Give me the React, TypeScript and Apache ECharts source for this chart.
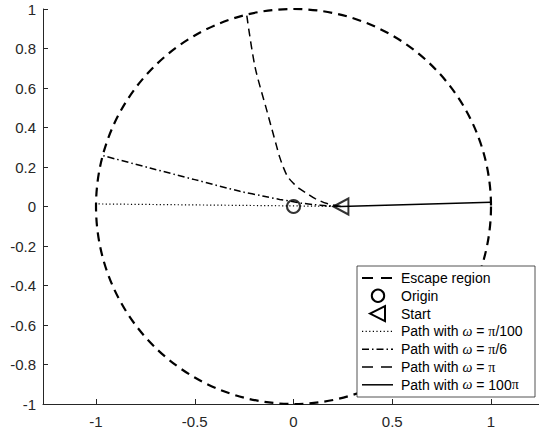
import React, { useEffect, useRef } from "react";
import * as echarts from "echarts";

// ---- data ----
const xTickValues = [-1, -0.5, 0, 0.5, 1];
const yTickValues = [-1, -0.8, -0.6, -0.4, -0.2, 0, 0.2, 0.4, 0.6, 0.8, 1];
const escapeCenter = [0, 0];
const escapeRadius = 1;
const originPoint = [0, 0];
const startPoint = [0.24, 0];
const pathPi100 = [
  [0.24, 0],
  [0, 0.003],
  [-0.5, 0.008],
  [-1.0, 0.013],
];
const pathPi6 = [
  [0.24, 0],
  [0.17, 0.004],
  [0.1, 0.01],
  [0.04, 0.017],
  [0, 0.024],
  [-0.07, 0.036],
  [-0.15, 0.052],
  [-0.271, 0.077],
  [-0.5, 0.136],
  [-0.727, 0.195],
  [-0.963, 0.257],
];
const pathPi = [
  [0.24, 0],
  [0.17, 0.015],
  [0.11, 0.04],
  [0.067, 0.067],
  [0.03, 0.09],
  [0, 0.117],
  [-0.03, 0.152],
  [-0.052, 0.2],
  [-0.07, 0.25],
  [-0.085, 0.303],
  [-0.136, 0.489],
  [-0.195, 0.708],
  [-0.237, 0.97],
];
const path100Pi = [
  [0.24, 0],
  [0.6, 0.01],
  [1.0, 0.021],
];
const legendLabels = [
  "Escape region",
  "Origin",
  "Start",
  "Path with {w|ω} = {p|π}/100",
  "Path with {w|ω} = {p|π}/6",
  "Path with {w|ω} = {p|π}",
  "Path with {w|ω} = 100{p|π}",
];

const FONT = "'Liberation Sans', Arial, Helvetica, sans-serif";
const AXIS_COLOR = "#262626";

export default function App() {
  const ref = useRef<HTMLDivElement>(null);
  useEffect(() => {
    if (!ref.current) return;
    const chart = echarts.init(ref.current, null, { renderer: "svg" });

    const legendX = 357;
    const legendY = 266;
    const rowY = (i: number) => 278 + i * 17.8;
    const lx1 = 362;
    const lx2 = 393;
    const rich = {
      w: { fontFamily: "'Liberation Serif', 'DejaVu Serif', serif", fontStyle: "italic", fontSize: 14, fill: "#000" },
      p: { fontFamily: "'Liberation Serif', 'DejaVu Serif', serif", fontSize: 14, fill: "#000" },
    };
    const legendStyles: any[] = [
      { lineDash: [11, 8], lineWidth: 2.2 },
      null,
      null,
      { lineDash: [1.2, 2.4], lineWidth: 1.2 },
      { lineDash: [7, 3, 1.5, 3], lineWidth: 1.5 },
      { lineDash: [11, 8], lineWidth: 1.5 },
      { lineWidth: 1.5 },
    ];
    const legendEls: any[] = [
      {
        type: "rect",
        shape: { x: legendX, y: legendY, width: 178, height: 131 },
        style: { fill: "#fff", stroke: AXIS_COLOR, lineWidth: 0.8 },
        z: 100,
      },
    ];
    legendLabels.forEach((label, i) => {
      const y = rowY(i);
      const st = legendStyles[i];
      if (st) {
        legendEls.push({
          type: "line",
          shape: { x1: lx1, y1: y, x2: lx2, y2: y },
          style: { stroke: "#000", ...st },
          z: 101,
        });
      } else if (i === 1) {
        legendEls.push({
          type: "circle",
          shape: { cx: 378, cy: y, r: 6.2 },
          style: { fill: "none", stroke: "#000", lineWidth: 2 },
          z: 101,
        });
      } else if (i === 2) {
        legendEls.push({
          type: "polygon",
          shape: { points: [[370, y], [385, y - 7.5], [385, y + 7.5]] },
          style: { fill: "none", stroke: "#000", lineWidth: 2 },
          z: 101,
        });
      }
      legendEls.push({
        type: "text",
        x: 401,
        y: y,
        style: {
          text: label,
          font: `14px ${FONT}`,
          fill: "#000",
          verticalAlign: "middle",
          align: "left",
          rich,
        },
        z: 101,
      });
    });

    const fmt = (v: number) => String(Math.round(v * 10) / 10);

    chart.setOption({
      animation: false,
      grid: { left: 43, right: 0, top: 9, bottom: 31, containLabel: false },
      xAxis: {
        type: "value",
        min: -1.2684,
        max: 1.243,
        axisLine: { onZero: false, lineStyle: { color: AXIS_COLOR, width: 1 } },
        axisTick: {
          inside: true,
          length: 5,
          customValues: xTickValues,
          lineStyle: { color: AXIS_COLOR },
        },
        axisLabel: {
          customValues: xTickValues,
          formatter: (v: number) => fmt(v),
          color: AXIS_COLOR,
          fontSize: 15,
          fontFamily: FONT,
          margin: 10,
        },
        splitLine: { show: false },
      },
      yAxis: {
        type: "value",
        min: -1,
        max: 1,
        interval: 0.2,
        axisLine: { show: true, onZero: false, lineStyle: { color: AXIS_COLOR, width: 1 } },
        axisTick: { show: true, inside: true, length: 5, lineStyle: { color: AXIS_COLOR } },
        axisLabel: {
          formatter: (v: number) => fmt(v),
          color: AXIS_COLOR,
          fontSize: 15,
          fontFamily: FONT,
          margin: 7,
          customValues: yTickValues,
        },
        splitLine: { show: false },
      },
      series: [
        {
          type: "custom",
          coordinateSystem: "cartesian2d",
          clip: false,
          data: [[escapeCenter[0], escapeCenter[1], escapeRadius]],
          renderItem: (params: any, api: any) => {
            const c = api.coord([api.value(0), api.value(1)]);
            const r = api.size([api.value(2), api.value(2)]);
            return {
              type: "circle",
              shape: { cx: c[0], cy: c[1], r: r[0] },
              style: { fill: "none", stroke: "#000", lineWidth: 2.2, lineDash: [9, 6] },
            };
          },
          z: 2,
        },
        {
          type: "line",
          data: pathPi100,
          showSymbol: false,
          symbol: "none",
          lineStyle: { color: "#000", width: 1.2, type: [1.2, 2.4] },
          z: 3,
        },
        {
          type: "line",
          data: pathPi6,
          showSymbol: false,
          symbol: "none",
          smooth: 0.3,
          lineStyle: { color: "#000", width: 1.5, type: [7, 3, 1.5, 3] },
          z: 3,
        },
        {
          type: "line",
          data: pathPi,
          showSymbol: false,
          symbol: "none",
          smooth: 0.3,
          lineStyle: { color: "#000", width: 1.5, type: [8, 5] },
          z: 3,
        },
        {
          type: "line",
          data: path100Pi,
          showSymbol: false,
          symbol: "none",
          lineStyle: { color: "#000", width: 1.5 },
          z: 3,
        },
        {
          type: "scatter",
          data: [originPoint],
          symbol: "circle",
          symbolSize: 13,
          itemStyle: { color: "none", borderColor: "#000", borderWidth: 2 },
          z: 5,
        },
        {
          type: "scatter",
          data: [startPoint],
          symbol: "triangle",
          symbolRotate: 90,
          symbolSize: [16, 15],
          itemStyle: { color: "none", borderColor: "#000", borderWidth: 2 },
          z: 5,
        },
      ],
      graphic: legendEls,
    });
    return () => chart.dispose();
  }, []);
  return (
    <div
      ref={ref}
      style={{ position: "absolute", left: 0, top: 0, width: 539, height: 435 }}
    />
  );
}
